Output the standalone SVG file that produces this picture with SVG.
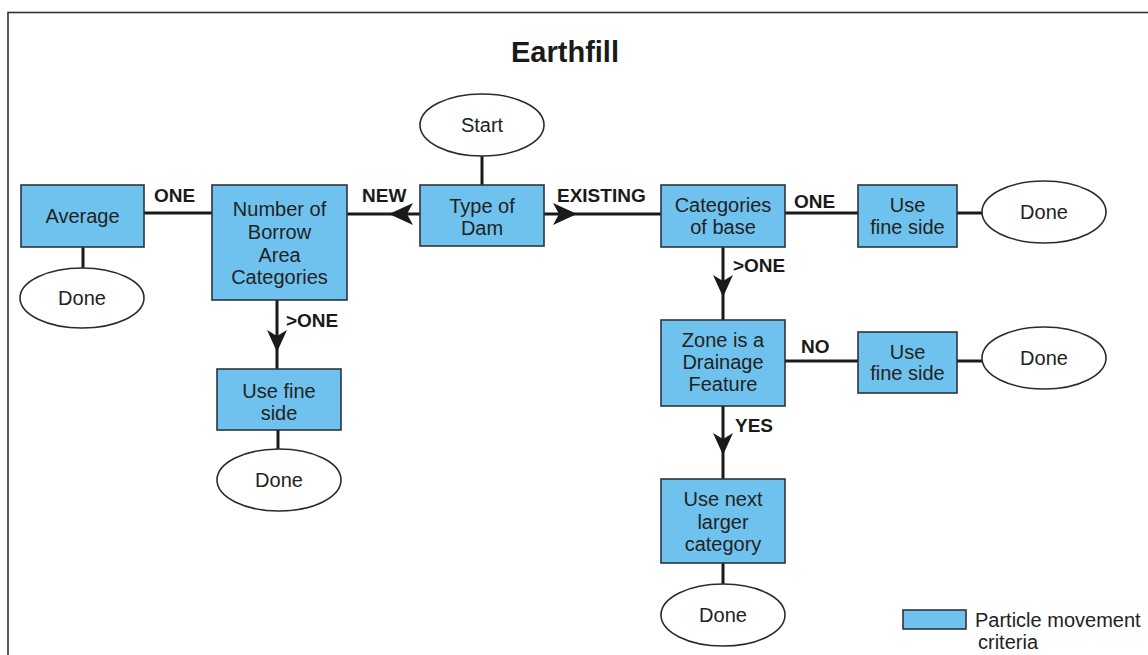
<svg xmlns="http://www.w3.org/2000/svg" width="1148" height="655" viewBox="0 0 1148 655">
<style>
.box{fill:#6fc2ee;stroke:#2b3440;stroke-width:1.6}
.term{fill:#fff;stroke:#2b2b2b;stroke-width:1.6}
.t{font-family:"Liberation Sans",Arial,sans-serif;font-size:20px;fill:#222;text-anchor:middle}
.lbl{font-family:"Liberation Sans",Arial,sans-serif;font-size:19px;font-weight:bold;fill:#1a1a1a}
.ln{stroke:#1a1a1a;stroke-width:3;fill:none}
.ah{fill:#1a1a1a}
</style>
<rect x="0" y="0" width="1148" height="655" fill="#fff"/>
<rect x="8" y="12.5" width="1150" height="660" fill="none" stroke="#333" stroke-width="1.6"/>
<text x="565" y="62" font-family="Liberation Sans,Arial,sans-serif" font-size="29" font-weight="bold" fill="#1a1a1a" text-anchor="middle">Earthfill</text>

<g id="connectors">
<line class="ln" x1="482" y1="156" x2="482" y2="185"/>
<line class="ln" x1="347" y1="214" x2="420" y2="214"/>
<path class="ah" d="M389,214 L413,203 L407,214 L413,225 Z"/>
<line class="ln" x1="544" y1="214" x2="661" y2="214"/>
<path class="ah" d="M577,214 L553,203 L559,214 L553,225 Z"/>
<line class="ln" x1="144" y1="213" x2="212" y2="213"/>
<line class="ln" x1="83" y1="247" x2="83" y2="268"/>
<line class="ln" x1="277" y1="300" x2="277" y2="369"/>
<path class="ah" d="M277,352 L267,330 L277,336 L287,330 Z"/>
<line class="ln" x1="278" y1="430" x2="278" y2="449"/>
<line class="ln" x1="785" y1="213" x2="858" y2="213"/>
<line class="ln" x1="957" y1="213" x2="982" y2="213"/>
<line class="ln" x1="723" y1="247" x2="723" y2="320"/>
<path class="ah" d="M723,297 L713,275 L723,281 L733,275 Z"/>
<line class="ln" x1="785" y1="361" x2="858" y2="361"/>
<line class="ln" x1="957" y1="361" x2="982" y2="361"/>
<line class="ln" x1="723" y1="406" x2="723" y2="479"/>
<path class="ah" d="M723,455 L713,433 L723,439 L733,433 Z"/>
<line class="ln" x1="723" y1="563" x2="723" y2="584"/>
<text class="lbl" x="154" y="202">ONE</text>
<text class="lbl" x="362" y="202">NEW</text>
<text class="lbl" x="557" y="202">EXISTING</text>
<text class="lbl" x="286" y="327">&gt;ONE</text>
<text class="lbl" x="794" y="208">ONE</text>
<text class="lbl" x="733" y="272">&gt;ONE</text>
<text class="lbl" x="801" y="353">NO</text>
<text class="lbl" x="735" y="432">YES</text>
</g>

<g id="start"><ellipse class="term" cx="482" cy="125" rx="62" ry="31"/><text class="t" x="482" y="132">Start</text></g>
<g id="type-of-dam"><rect class="box" x="420" y="185" width="124" height="61"/><text class="t" x="482" y="213">Type of</text><text class="t" x="482" y="235">Dam</text></g>
<g id="number-borrow"><rect class="box" x="212" y="185" width="135" height="115"/><text class="t" x="279.5" y="216">Number of</text><text class="t" x="279.5" y="239">Borrow</text><text class="t" x="279.5" y="262">Area</text><text class="t" x="279.5" y="284">Categories</text></g>
<g id="average"><rect class="box" x="21" y="185" width="123" height="62"/><text class="t" x="82.5" y="223">Average</text></g>
<g id="done-average"><ellipse class="term" cx="82" cy="298" rx="62" ry="30"/><text class="t" x="82" y="305">Done</text></g>
<g id="use-fine-left"><rect class="box" x="217" y="369" width="124" height="61"/><text class="t" x="279" y="398">Use fine</text><text class="t" x="279" y="420">side</text></g>
<g id="done-left"><ellipse class="term" cx="279" cy="480" rx="62" ry="31"/><text class="t" x="279" y="487">Done</text></g>
<g id="categories-base"><rect class="box" x="661" y="185" width="124" height="62"/><text class="t" x="723" y="212">Categories</text><text class="t" x="723" y="234">of base</text></g>
<g id="use-fine-top"><rect class="box" x="858" y="185" width="99" height="62"/><text class="t" x="907.5" y="212">Use</text><text class="t" x="907.5" y="234">fine side</text></g>
<g id="done-top"><ellipse class="term" cx="1044" cy="212" rx="62" ry="31"/><text class="t" x="1044" y="219">Done</text></g>
<g id="zone-drainage"><rect class="box" x="661" y="320" width="124" height="86"/><text class="t" x="723" y="347">Zone is a</text><text class="t" x="723" y="369">Drainage</text><text class="t" x="723" y="391">Feature</text></g>
<g id="use-fine-mid"><rect class="box" x="858" y="332" width="99" height="61"/><text class="t" x="907.5" y="359">Use</text><text class="t" x="907.5" y="380">fine side</text></g>
<g id="done-mid"><ellipse class="term" cx="1044" cy="358" rx="62" ry="31"/><text class="t" x="1044" y="365">Done</text></g>
<g id="use-next-larger"><rect class="box" x="661" y="479" width="124" height="84"/><text class="t" x="723" y="506">Use next</text><text class="t" x="723" y="529">larger</text><text class="t" x="723" y="551">category</text></g>
<g id="done-bottom"><ellipse class="term" cx="723" cy="615" rx="62" ry="31"/><text class="t" x="723" y="622">Done</text></g>
<g id="legend"><rect class="box" x="903" y="610" width="63" height="19" stroke-width="1"/><text class="t" x="975" y="627" style="text-anchor:start">Particle movement</text><text class="t" x="978" y="649" style="text-anchor:start">criteria</text></g>
</svg>
